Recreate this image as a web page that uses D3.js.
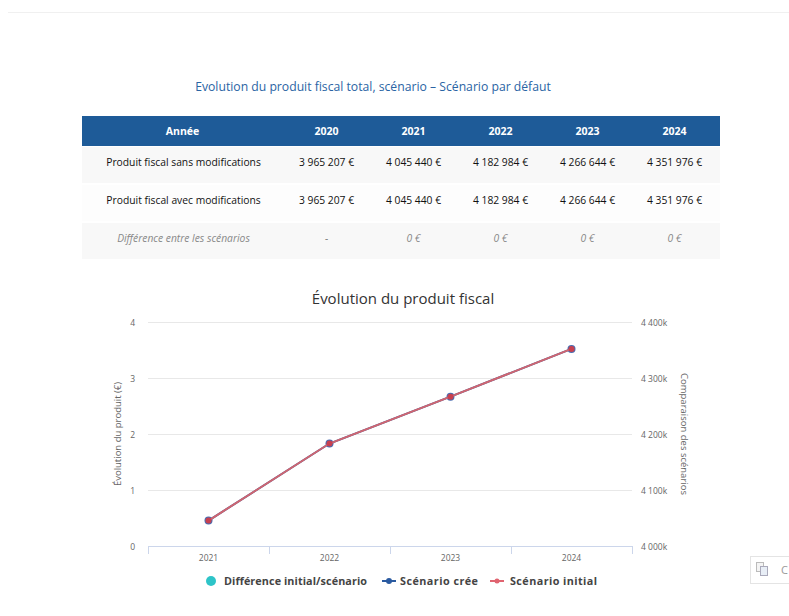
<!DOCTYPE html>
<html><head><meta charset="utf-8">
<script src="https://cdn.jsdelivr.net/npm/d3@7/dist/d3.min.js"></script>
<style>
body{margin:0;background:#fff;}
svg{display:block;}
</style></head>
<body>
<script>
// ---- data ----
const tableYears = ["2020","2021","2022","2023","2024"];
const rowLabels = ["Produit fiscal sans modifications","Produit fiscal avec modifications","Différence entre les scénarios"];
const sansModif = [3965207,4045440,4182984,4266644,4351976];
const avecModif = [3965207,4045440,4182984,4266644,4351976];
const diffLabels = ["-","0 €","0 €","0 €","0 €"];

const chartYears = ["2021","2022","2023","2024"];
const scenarioInitial = [4045440,4182984,4266644,4351976];
const scenarioCree = [4045440,4182984,4266644,4351976];
const difference = [0,0,0,0];
const leftTicks = [0,1,2,3,4];
const rightTicks = [4000000,4100000,4200000,4300000,4400000];
const legendLabels = ["Différence initial/scénario","Scénario crée","Scénario initial"];

const W=789,H=616;
const svg=d3.select("body").append("svg").attr("width",W).attr("height",H);
const F="'Open Sans', 'DejaVu Sans', sans-serif";

// top faint line
svg.append("line").attr("x1",8).attr("x2",W).attr("y1",12.5).attr("y2",12.5).attr("stroke","#f0f0f0");

// page title
svg.append("text").attr("x",373).attr("y",91).attr("text-anchor","middle")
  .attr("font-family",F).attr("font-size",12.2).attr("fill","#2a64a4")
  .text("Evolution du produit fiscal total, scénario – Scénario par défaut");

// table
const tx0=82, tx1=720, labelW=201;
const colX=d3.scaleBand().domain(tableYears).range([tx0+labelW,tx1-2]);
const hdrY=116, hdrH=30, rowH=38;
svg.append("rect").attr("x",tx0).attr("y",hdrY).attr("width",tx1-tx0).attr("height",hdrH).attr("fill","#1e5b98");
svg.append("text").attr("x",tx0+labelW/2).attr("y",hdrY+19).attr("text-anchor","middle")
  .attr("font-family",F).attr("font-weight","bold").attr("font-size",10.5).attr("fill","#fff").text("Année");
svg.selectAll(".hy").data(tableYears).join("text").attr("x",d=>colX(d)+colX.bandwidth()/2).attr("y",hdrY+19)
  .attr("text-anchor","middle").attr("font-family",F).attr("font-weight","bold").attr("font-size",10.5).attr("fill","#fff").text(d=>d);

const fmt=v=>d3.format(",")(v).replace(/,/g," ")+" €";
const rows=[sansModif.map(fmt),avecModif.map(fmt),diffLabels];
rows.forEach((r,i)=>{
  const y=hdrY+hdrH+i*rowH;
  svg.append("rect").attr("x",tx0).attr("y",y+1).attr("width",tx1-tx0).attr("height",rowH-2).attr("fill",i===1?"#fdfdfd":"#f8f8f8");
  const it=i===2;
  svg.append("text").attr("x",tx0+labelW/2+1).attr("y",y+rowH/2+1).attr("text-anchor","middle")
    .attr("font-family",F).attr("font-size",10.3).attr("font-style",it?"italic":"normal").attr("fill",it?"#888":"#111").text(rowLabels[i]);
  svg.selectAll(null).data(r).join("text").attr("x",(d,j)=>colX(tableYears[j])+colX.bandwidth()/2).attr("y",y+rowH/2+1)
    .attr("text-anchor","middle").attr("font-family",F).attr("font-size",10.3).attr("font-style",it?"italic":"normal")
    .attr("fill",it?"#888":"#111").text(d=>d);
});

// chart
const px0=148, px1=632, py0=546, py1=322;
const x=d3.scaleBand().domain(chartYears).range([px0,px1]);
const yL=d3.scaleLinear().domain([0,4]).range([py0,py1]);
const yR=d3.scaleLinear().domain([4000000,4400000]).range([py0,py1]);

svg.append("text").attr("x",403).attr("y",304).attr("text-anchor","middle").attr("font-family",F)
  .attr("font-size",15).attr("fill","#333").text("Évolution du produit fiscal");

// grid
svg.selectAll(".grid").data(leftTicks.slice(1)).join("line").attr("x1",px0).attr("x2",px1)
  .attr("y1",d=>Math.round(yL(d))+0.5).attr("y2",d=>Math.round(yL(d))+0.5).attr("stroke","#e8e8e8");

// left axis labels
svg.selectAll(".lt").data(leftTicks).join("text").attr("x",135).attr("y",d=>yL(d)+3.5).attr("text-anchor","end")
  .attr("font-family",F).attr("font-size",8.5).attr("fill","#666").text(d=>d);
svg.append("text").attr("transform",`translate(121,${(py0+py1)/2}) rotate(-90)`).attr("text-anchor","middle")
  .attr("font-family",F).attr("font-size",9.5).attr("fill","#666").text("Évolution du produit (€)");

// right axis
svg.selectAll(".rt").data(rightTicks).join("text").attr("x",641).attr("y",d=>yR(d)+3.5).attr("text-anchor","start")
  .attr("font-family",F).attr("font-size",8.5).attr("fill","#666").text(d=>d3.format(",")(d/1000).replace(/,/g," ")+"k");
svg.append("text").attr("transform",`translate(681,${(py0+py1)/2}) rotate(90)`).attr("text-anchor","middle")
  .attr("font-family",F).attr("font-size",9.5).attr("fill","#666").text("Comparaison des scénarios");

// x axis
const xg=svg.append("g").attr("transform",`translate(0,${py0})`);
xg.append("line").attr("x1",px0).attr("x2",px1).attr("y1",0.5).attr("y2",0.5).attr("stroke","#ccd6eb");
const bounds=chartYears.map(d=>x(d)).concat([px1]);
xg.selectAll(".tk").data(bounds).join("line").attr("x1",d=>Math.round(d)+0.5).attr("x2",d=>Math.round(d)+0.5)
  .attr("y1",0).attr("y2",8).attr("stroke","#ccd6eb");
xg.selectAll(".xl").data(chartYears).join("text").attr("x",d=>x(d)+x.bandwidth()/2).attr("y",15)
  .attr("text-anchor","middle").attr("font-family",F).attr("font-size",8.5).attr("fill","#666").text(d=>d);

// difference series (columns at 0 -> invisible height)
svg.selectAll(".diff").data(difference).join("rect").attr("x",(d,i)=>x(chartYears[i])+x.bandwidth()/2-8)
  .attr("width",16).attr("y",d=>yL(d)).attr("height",d=>py0-yL(d)).attr("fill","#2ec4c8");

const cx=(d,i)=>x(chartYears[i])+x.bandwidth()/2;
const line=d3.line().x(cx).y(d=>yR(d));
// scenario crée (blue)
svg.append("path").datum(scenarioCree).attr("d",line).attr("fill","none").attr("stroke","#2a5aa0").attr("stroke-width",2);
svg.selectAll(".cree").data(scenarioCree).join("circle").attr("cx",cx).attr("cy",d=>yR(d)).attr("r",4).attr("fill","#4a6cb0");
// scenario initial (red)
svg.append("path").datum(scenarioInitial).attr("d",line).attr("fill","none").attr("stroke","#d06570").attr("stroke-width",2);
svg.selectAll(".init").data(scenarioInitial).join("circle").attr("cx",cx).attr("cy",d=>yR(d)).attr("r",3).attr("fill","#c8404f");

// legend
const lg=svg.append("g").attr("font-family",F).attr("font-size",10.8).attr("font-weight","bold").attr("fill","#444");
lg.append("circle").attr("cx",211).attr("cy",581).attr("r",5).attr("fill","#2ec4c8");
lg.append("text").attr("x",224).attr("y",585).attr("textLength",143).text(legendLabels[0]);
lg.append("line").attr("x1",382).attr("x2",396).attr("y1",581).attr("y2",581).attr("stroke","#2a5aa0").attr("stroke-width",2);
lg.append("circle").attr("cx",389).attr("cy",581).attr("r",3).attr("fill","#2a5aa0");
lg.append("text").attr("x",400).attr("y",585).attr("textLength",78).text(legendLabels[1]);
lg.append("line").attr("x1",490).attr("x2",504).attr("y1",581).attr("y2",581).attr("stroke","#e06470").attr("stroke-width",2);
lg.append("circle").attr("cx",497).attr("cy",581).attr("r",2.5).attr("fill","#e06470");
lg.append("text").attr("x",510).attr("y",585).attr("textLength",87).text(legendLabels[2]);

// bottom-right widget
svg.append("rect").attr("x",750.5).attr("y",556.5).attr("width",45).attr("height",27).attr("fill","#fff").attr("stroke","#e4e4e4");
svg.append("rect").attr("x",756.5).attr("y",562.5).attr("width",7).attr("height",9).attr("fill","#f4f4f4").attr("stroke","#bbb");
svg.append("rect").attr("x",760.5).attr("y",566.5).attr("width",7).attr("height",9).attr("fill","#e8eef6").attr("stroke","#aab");
svg.append("text").attr("x",781).attr("y",574).attr("font-family",F).attr("font-size",11).attr("fill","#999").text("C");
</script>
</body></html>
